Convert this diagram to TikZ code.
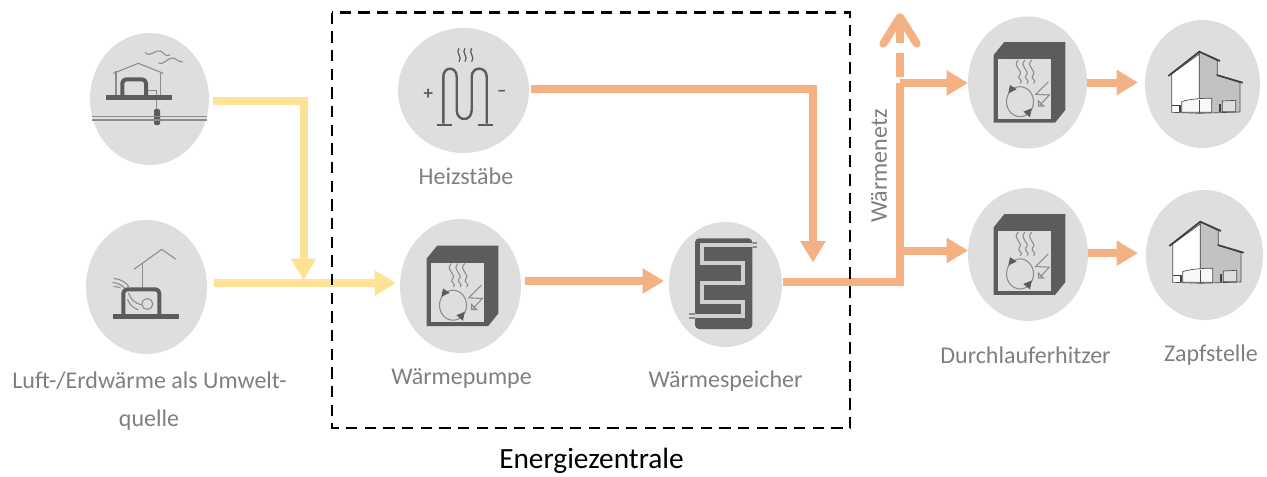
\documentclass[tikz,border=0pt]{standalone}
\usepackage{fontspec}
\setmainfont{Carlito}
\usetikzlibrary{arrows.meta,shapes.geometric}
\definecolor{iconGray}{HTML}{DEDEDE}
\definecolor{iconDark}{HTML}{5C5C5C}
\definecolor{iconLine}{HTML}{8C8C8C}
\definecolor{labelGray}{HTML}{7F7F7F}
\definecolor{heatYellow}{HTML}{FFE294}
\definecolor{heatOrange}{HTML}{F4B183}

\begin{document}
\begin{tikzpicture}[
  x=0.75pt,y=-0.75pt,
  iconBack/.style={draw=none,fill=iconGray,ellipse,inner sep=0pt,outer sep=0pt},
  stationLabel/.style={text=labelGray,font=\fontsize{18}{20}\selectfont,inner sep=0pt},
  iconThin/.style={draw=iconLine,line width=0.8pt},
  iconThick/.style={draw=iconDark,line width=3pt,line join=round},
  yellowFlow/.style={draw=heatYellow,line width=6pt},
  yellowArrow/.style={yellowFlow,-{Triangle[length=16pt,width=18pt]}},
  orangeFlow/.style={draw=heatOrange,line width=6pt},
  orangeArrow/.style={orangeFlow,-{Triangle[length=16pt,width=18pt]}},
  centralBox/.style={draw=black,line width=2pt,dash pattern=on 8.6pt off 5.4pt},
  % heat pump
  heatPump/.pic={
    \fill[iconDark] (-33.8,-27.5) -- (-23.2,-40.5) -- (37.8,-40.5) -- (37.8,27.5) -- (27.5,40.2) -- (-33.8,40.2) -- cycle;
    \fill[iconGray] (-29.8,-23.5) rectangle (23.2,36.2);
    \foreach \dx in {-9.2,-2.5,4.2}
      \draw[iconThin] (\dx,-22.5) .. controls (\dx-7,-16) and (\dx+6,-12) .. (\dx+1,-7) .. controls (\dx-2,-4) and (\dx+6,-2) .. (\dx+2,1);
    \draw[iconThin] (-7.5,19.2) ellipse (13.5 and 15);
    \fill[iconDark] (-19.2,10.8) -- (-10.8,6.8) -- (-17.5,2.5) -- cycle;
    \fill[iconDark] (-4.2,29.2) -- (4.2,25.8) -- (2.5,34.8) -- cycle;
    \draw[iconThin] (20.8,-0.8) -- (8.2,11.8) -- (21.8,12.5) -- (12.5,22.5);
    \draw[iconThin] (11,18.5) -- (11,23.5) -- (16,23.5) -- cycle;
  },
  % house
  houseIcon/.pic={
    \filldraw[fill=iconGray!70!gray,draw=black!70,line width=0.5pt] (-3.2,-32.3) -- (14.8,-23.3) -- (14.8,-9) -- (37.5,-1.3) -- (37.5,28) -- (-3.2,29.3) -- cycle;
    \filldraw[fill=white,draw=black!70,line width=0.5pt] (-30.8,-10) -- (-3.2,-30) -- (-3.2,29.3) -- (-30.8,28.3) -- cycle;
    \draw[black!75,line width=1.3pt] (-34.2,-8) -- (-3.2,-32.3) -- (17.5,-23);
    \draw[black!75,line width=1.3pt] (14.2,-9) -- (40.2,-1.3);
    \filldraw[fill=white!80!iconGray,draw=black!70,line width=0.5pt] (-20.8,17.7) .. controls (-14,15) and (2,14) .. (9.2,14.3) -- (9.2,28.3) -- (-20.8,28.3) -- cycle;
    \draw[black!70,line width=0.5pt] (-3.2,15.5) -- (-3.2,29.3);
    \filldraw[fill=iconGray,draw=black!70,line width=0.5pt] (19.8,17) -- (33.2,16.3) -- (33.2,27.7) -- (19.8,27.7) -- cycle;
    \draw[black!75,line width=0.5pt] (-30.8,21) -- (-22.5,21) -- (-22.5,28);
    \fill[black!75] (-23.5,20.5) rectangle (-21.5,28);
    \fill[black!75] (16.5,20) rectangle (18.5,28);
  },
  % ground source
  groundIcon/.pic={
    \draw[iconThin] (-36.2,-25.7) -- (-11.2,-35.7) -- (13.8,-25.7);
    \draw[iconThin] (-33.5,-28) -- (-33.5,-4);
    \draw[iconThin] (11.2,-26) -- (11.2,-4);
    \draw[iconThin] (-2.2,-8.3) -- (7.2,-8.3) -- (7.2,10);
    \draw[iconThick,rounded corners=3pt] (-27.2,-2) -- (-27.2,-19.7) -- (-3.5,-19.7) -- (-3.5,-2);
    \fill[iconDark] (-43.8,-3.9) rectangle (22.2,1.3);
    \fill[iconDark,rounded corners=1pt] (4.5,10) rectangle (10.5,26);
    \draw[iconThin] (-57.2,17.3) -- (57.8,17.3);
    \draw[iconThin] (-57.2,21) -- (57.2,21);
    \draw[iconThin] (-4.5,-46.5) .. controls (1,-41) and (6,-50) .. (11,-48) .. controls (15,-46) and (15,-42) .. (20.5,-44);
    \draw[iconThin] (8.8,-36) .. controls (14,-33) and (18,-42) .. (24,-41) .. controls (27,-40) and (29,-37) .. (33.2,-37);
  },
  % air source
  airIcon/.pic={
    \draw[iconThin] (-12.5,-17.7) -- (15.2,-37.7) -- (29.5,-27.7);
    \draw[iconThin] (-4.2,-23.7) -- (-4.2,1.3);
    \draw[iconThick,rounded corners=3pt] (-23.2,29) -- (-23.2,2.3) -- (12.8,2.3) -- (12.8,29);
    \fill[iconDark] (-33.8,27) rectangle (32.8,32.4);
    \draw[iconThin] (0.8,17) circle (5.5);
    \draw[iconThin] (-33,-8.5) .. controls (-26,-8) and (-20,-5) .. (-17,1);
    \draw[iconThin] (-34,-4.5) .. controls (-28,-4) and (-25,-2) .. (-22,1);
    \draw[iconThin] (-33,-0.5) .. controls (-30,-0.5) and (-28,0) .. (-26,1);
    \draw[iconThin] (-18,6) .. controls (-16,12) and (-12,16) .. (-5,18);
    \draw[iconThin] (-19,12) .. controls (-17,18) and (-13,21) .. (-8,23);
  },
  % heating rods
  rodIcon/.pic={
    \draw[iconDark,line width=1.8pt] (-20.2,33) -- (-20.2,-13.8) .. controls (-20.2,-24.5) and (-6.8,-24.5) .. (-6.8,-13.8) -- (-6.8,19.5) .. controls (-6.8,31.5) and (8.2,31.5) .. (8.2,19.5) -- (8.2,-13.8) .. controls (8.2,-24.5) and (23.2,-24.5) .. (23.2,-13.8) -- (23.2,33);
    \draw[iconDark,line width=2pt] (-26.8,34.5) -- (-11.8,34.5);
    \draw[iconDark,line width=2pt] (14.2,34.5) -- (29.8,34.5);
    \foreach \dx in {-4.5,1.5,8.2}
      \draw[iconDark,line width=0.9pt] (\dx,-42.2) .. controls (\dx-4,-38) and (\dx+4,-34) .. (\dx,-28.8);
    \node[text=iconDark,inner sep=0pt,font=\bfseries\fontsize{14}{14}\selectfont] (plus) at (-35.2,3.5) {+};
    \node[text=iconDark,inner sep=0pt,font=\bfseries\fontsize{14}{14}\selectfont] (minus) at (38.2,2.8) {–};
  },
  % storage tank
  tankIcon/.pic={
    \fill[iconDark,rounded corners=3pt] (-30.5,-46.2) rectangle (26.8,44.5);
    \draw[iconThin] (26,-41.5) -- (31.2,-41.5);
    \draw[iconThin] (26,-37.5) -- (31.2,-37.5);
    \draw[iconThin] (-36.2,29.5) -- (-30,29.5);
    \draw[iconThin] (-36.2,33.5) -- (-30,33.5);
    \draw[iconGray!85!gray,line width=3pt,line join=miter] (27,-39.5) -- (-23.2,-39.5) -- (-23.2,-21.2) -- (17.8,-21.2) -- (17.8,-1.8) -- (-23.2,-1.8) -- (-23.2,17.2) -- (17.8,17.2) -- (17.8,31.5) -- (-30.5,31.5);
  }]

  \useasboundingbox (0,0) rectangle (1267,476);

  % background shapes
  \node[iconBack,minimum width=89.25pt,minimum height=99pt] (nGround) at (149.5,99) {};
  \node[iconBack,minimum width=90.75pt,minimum height=100.5pt] (nAir) at (146.5,287) {};
  \node[iconBack,minimum width=98.25pt,minimum height=93.75pt] (nRods) at (463.5,90.5) {};
  \node[iconBack,minimum width=90.75pt,minimum height=100.5pt] (nPump) at (460.5,286) {};
  \node[iconBack,minimum width=84.75pt,minimum height=93.75pt] (nTank) at (725.5,284.5) {};
  \node[iconBack,minimum width=89.25pt,minimum height=99pt] (nHeaterA) at (1027.5,82.5) {};
  \node[iconBack,minimum width=90pt,minimum height=99.75pt] (nHeaterB) at (1028,254.5) {};
  \node[iconBack,minimum width=86.25pt,minimum height=96pt] (nTapA) at (1202.5,84) {};
  \node[iconBack,minimum width=87.75pt,minimum height=97.5pt] (nTapB) at (1204.5,255) {};

  % icons
  \pic (iGround) at (149.5,99) {groundIcon};
  \pic (iAir) at (146.5,287) {airIcon};
  \pic (iRods) at (463.5,90.5) {rodIcon};
  \pic (iPump) at (460.5,286) {heatPump};
  \pic (iTank) at (725.5,284.5) {tankIcon};
  \pic (iHeaterA) at (1027.5,82.5) {heatPump};
  \pic (iHeaterB) at (1027.5,254.7) {heatPump};
  \pic (iTapA) at (1202.5,84) {houseIcon};
  \pic (iTapB) at (1203.5,254) {houseIcon};

  % labels
  \node[stationLabel] (lAir) at (149.5,381) {Luft-/Erdwärme als Umwelt-};
  \node[stationLabel] (lAirB) at (149,420) {quelle};
  \node[stationLabel] (lRods) at (466,176) {Heizstäbe};
  \node[stationLabel] (lPump) at (461.5,378) {Wärmepumpe};
  \node[stationLabel] (lTank) at (725.5,381.5) {Wärmespeicher};
  \node[stationLabel] (lHeater) at (1025.5,355) {Durchlauferhitzer};
  \node[stationLabel] (lTap) at (1211,355) {Zapfstelle};
  \node[stationLabel,rotate=90] (lNet) at (879,166) {Wärmenetz};
  \node[inner sep=0pt,font=\fontsize{22}{24}\selectfont] (lCentral) at (591.5,460.5) {Energiezentrale};

  % junctions
  \coordinate (cYellow) at (303.5,280);
  \coordinate (cStore) at (813,262.5);
  \coordinate (cTop) at (900,83);
  \coordinate (cBottom) at (900,250.5);
  \coordinate (cDash) at (900,77);
  \coordinate (cOut) at (900,13);

  % yellow flows
  \draw[yellowArrow] ([shift={(4,2)}]nGround.east) -| (cYellow);
  \draw[yellowArrow] ([shift={(7,-4)}]nAir.east) -- ([shift={(-4,-3)}]nPump.west);

  % orange flows
  \draw[orangeArrow] ([shift={(2,-1.5)}]nRods.east) -| (cStore);
  \draw[orangeArrow] ([shift={(4,-5)}]nPump.east) -- ([shift={(-5,-3.5)}]nTank.west);
  \draw[orangeFlow] ([shift={(1,-2.5)}]nTank.east) -| (cTop);
  \draw[orangeArrow] (cTop) -- (cTop -| nHeaterA.west);
  \draw[orangeArrow] (cBottom) -- (cBottom -| nHeaterB.west);
  \draw[orangeArrow] (nHeaterA.east) -- ([xshift=-5.25pt]nTapA.west |- nHeaterA.east);
  \draw[orangeArrow] ([yshift=1pt]nHeaterB.east) -- ([xshift=-6pt,yshift=1pt]nTapB.west |- nHeaterB.east);
  \draw[orangeFlow,dash pattern=on 18pt off 7.5pt on 30pt,-{Straight Barb[length=20pt,width=25pt,round]}] (cDash) -- (cOut);

  % central box
  \draw[centralBox] (332,12.5) rectangle (850,428);
\end{tikzpicture}
\end{document}
